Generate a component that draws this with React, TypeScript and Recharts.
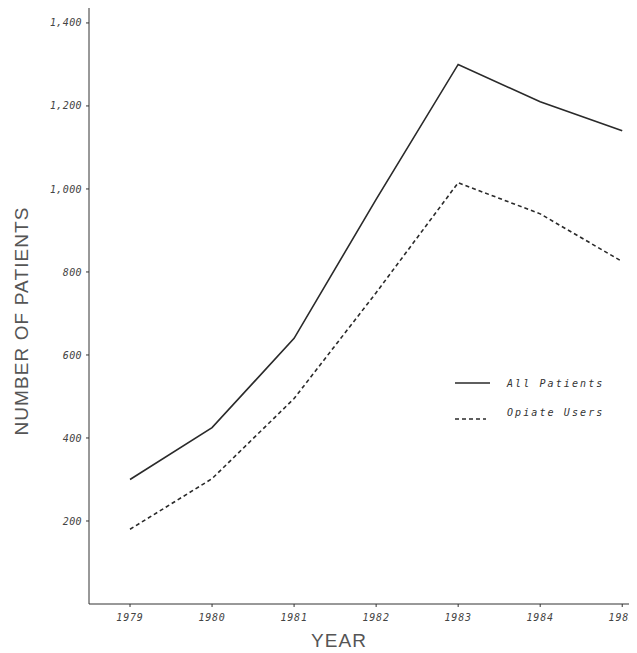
import React from "react";
import { LineChart, Line, XAxis, YAxis } from "recharts";

const years = [1979, 1980, 1981, 1982, 1983, 1984, 1985];
const allPatients = [300, 425, 640, 975, 1300, 1210, 1140];
const opiateUsers = [180, 302, 495, 750, 1015, 940, 825];
const yTicks = [200, 400, 600, 800, 1000, 1200, 1400];

const data = years.map((y, i) => ({ year: y, all: allPatients[i], opiate: opiateUsers[i] }));

const yTickFont = {
  fontFamily: "'DejaVu Sans Mono', monospace",
  fontStyle: "italic",
  fontSize: 10,
  fill: "#444",
  letterSpacing: 0.4,
};

const xTickFont = {
  fontFamily: "'DejaVu Sans Mono', monospace",
  fontStyle: "italic",
  fontSize: 10,
  fill: "#444",
  letterSpacing: 0.8,
};

const fmt = (v: number) => v.toLocaleString("en-US");

const LegendBox = () => (
  <div
    style={{
      position: "absolute",
      left: 447,
      top: 367,
      fontFamily: "'DejaVu Sans Mono', monospace",
      fontStyle: "italic",
      fontSize: 10,
      color: "#333",
      letterSpacing: 2.1,
    }}
  >
    <div style={{ display: "flex", alignItems: "center", height: 16 }}>
      <svg width={52} height={16}><line x1={0} y1={8} x2={35} y2={8} stroke="#2a2a2a" strokeWidth={1.5} /></svg>
      <span>All Patients</span>
    </div>
    <div style={{ display: "flex", alignItems: "center", height: 16, marginTop: 13 }}>
      <svg width={52} height={16}><line x1={0} y1={15} x2={31} y2={15} stroke="#2a2a2a" strokeWidth={1.5} strokeDasharray="4 3" /></svg>
      <span>Opiate Users</span>
    </div>
  </div>
);

export default function App() {
  return (
    <div style={{ position: "relative", width: 629, height: 645 }}>
      <LineChart width={629} height={645} data={data} margin={{ top: 0, right: 0, bottom: 0, left: 0 }} style={{ overflow: "visible" }}>
        <XAxis
          dataKey="year"
          type="number"
          domain={[1978.5, 1985.18]}
          ticks={years}
          allowDataOverflow
          height={49}
          tickSize={3}
          tickMargin={7}
          stroke="#333"
          tick={xTickFont}
          label={({ viewBox }: any) => (
            <text
              x={viewBox.x + viewBox.width / 2 - 24}
              y={viewBox.y + 43}
              textAnchor="middle"
              fontFamily="'Liberation Sans', Arial, sans-serif"
              fontSize={19}
              letterSpacing={1.1}
              fill="#555"
            >
              YEAR
            </text>
          )}
        />
        <YAxis
          type="number"
          domain={[0, 1436]}
          ticks={yTicks}
          width={81}
          tickSize={3}
          tickMargin={4}
          stroke="#333"
          tick={yTickFont}
          tickFormatter={fmt}
          label={({ viewBox }: any) => {
            const cx = viewBox.x + 20;
            const cy = viewBox.y + viewBox.height / 2 + 15;
            return (
              <text
                x={cx}
                y={cy}
                transform={`rotate(-90 ${cx} ${cy})`}
                textAnchor="middle"
                fontFamily="'Liberation Sans', Arial, sans-serif"
                fontSize={19}
                letterSpacing={1.1}
                fill="#555"
              >
                NUMBER OF PATIENTS
              </text>
            );
          }}
        />
        <Line dataKey="all" stroke="#2a2a2a" strokeWidth={1.6} dot={false} isAnimationActive={false} />
        <Line dataKey="opiate" stroke="#2a2a2a" strokeWidth={1.6} strokeDasharray="4 3" dot={false} isAnimationActive={false} />
      </LineChart>
      <LegendBox />
    </div>
  );
}
